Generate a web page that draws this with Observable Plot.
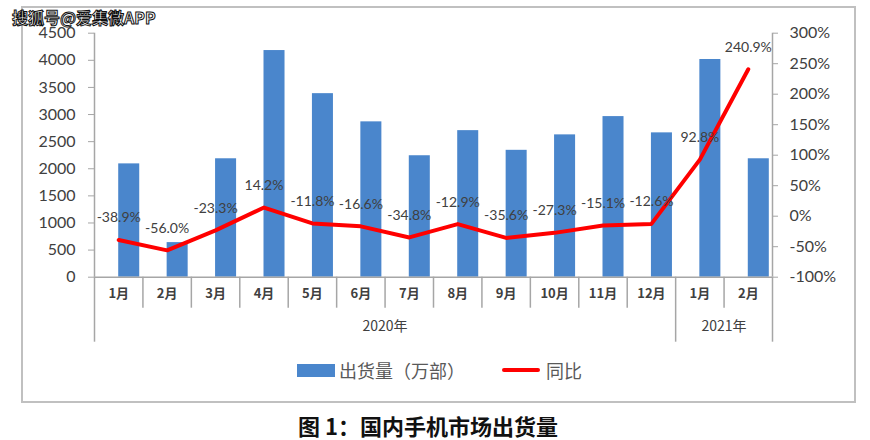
<!DOCTYPE html>
<html>
<head>
<meta charset="utf-8">
<script src="https://cdn.jsdelivr.net/npm/d3@7"></script>
<script src="https://cdn.jsdelivr.net/npm/@observablehq/plot@0.6"></script>
<style>
  html, body { margin: 0; padding: 0; background: #fff; }
  #root { position: relative; width: 870px; height: 440px; overflow: hidden; background: #fff;
          font-family: Lato, "Noto Sans CJK SC", sans-serif; }
  #frame { position: absolute; left: 21px; top: 6px; width: 831px; height: 393px;
           border: 2px solid #c0c0c0; box-sizing: content-box; }
  #chart { position: absolute; left: 0; top: 0; }
  #wm { position: absolute; left: 12px; top: 6px; font-size: 16px; line-height: 22px;
        font-family: "Noto Sans CJK SC", sans-serif; font-weight: bold; color: #fff;
        -webkit-text-stroke: 1px #111; letter-spacing: 0; }
  .legend { position: absolute; top: 358px; height: 24px; display: flex; align-items: center;
            font-family: "Noto Sans CJK SC", sans-serif; font-size: 18px; color: #595959; }
  .sw-bar { width: 38px; height: 13px; background: #4a86cc; margin-right: 4px; }
  .sw-line { width: 38px; height: 4px; background: #ff0000; margin-right: 6px; border-radius: 2px; }
  #title { position: absolute; left: 298px; top: 410px; font-family: "Noto Sans CJK SC", sans-serif;
           font-size: 22px; font-weight: bold; color: #111; line-height: 30px; white-space: nowrap; }
</style>
</head>
<body>
<div id="root">
  <div id="frame"></div>
  <div id="chart"></div>
  <div id="wm">搜狐号@爱集微APP</div>
  <div class="legend" style="left:297px"><div class="sw-bar"></div><span>出货量（万部）</span></div>
  <div class="legend" style="left:502px"><div class="sw-line"></div><span>同比</span></div>
  <div id="title">图 1：国内手机市场出货量</div>
</div>
<script>
// ---- data ----
const months = ["1月","2月","3月","4月","5月","6月","7月","8月","9月","10月","11月","12月","1月","2月"];
const shipments = [2090, 638, 2184, 4180, 3385, 2865, 2240, 2703, 2340, 2625, 2962, 2662, 4015, 2184];
const yoy = [-38.9, -56.0, -23.3, 14.2, -11.8, -16.6, -34.8, -12.9, -35.6, -27.3, -15.1, -12.6, 92.8, 240.9];
const years = ["2020年", "2021年"];
const yearStart = [0, 12];
const yearEnd = [12, 14];
const leftTicks = [0, 500, 1000, 1500, 2000, 2500, 3000, 3500, 4000, 4500];
const rightTicks = [-100, -50, 0, 50, 100, 150, 200, 250, 300];

// ---- build ----
const Y_MAX = 4500, P_MIN = -100, P_MAX = 300;
const pctToY = p => (p - P_MIN) / (P_MAX - P_MIN) * Y_MAX;
const yToPct = v => v / Y_MAX * (P_MAX - P_MIN) + P_MIN;

const data = months.map((m, i) => ({i, m, v: shipments[i], p: yoy[i]}));
const yearData = years.map((y, k) => ({y, s: yearStart[k], e: yearEnd[k]}));
const barW = 0.434;
const gray = "#a6a6a6";
const txt = "#404040";

const chart = Plot.plot({
  width: 870,
  height: 345,
  marginLeft: 94,
  marginRight: 98,
  marginTop: 32.7,
  marginBottom: 68.3,
  x: {type: "linear", domain: [0, 14], axis: null, label: null},
  y: {domain: [0, Y_MAX], axis: null, label: null},
  style: {fontFamily: 'Lato, "Noto Sans CJK SC", sans-serif', background: "transparent", overflow: "visible"},
  marks: [
    Plot.rectY(data, {x1: d => d.i + 0.5, x2: d => d.i + 0.5 + barW, y: "v", fill: "#4a86cc"}),
    Plot.ruleX([0], {stroke: gray, strokeWidth: 1.5}),
    Plot.ruleX([14], {stroke: gray, strokeWidth: 1.5}),
    Plot.ruleY([0], {stroke: gray, strokeWidth: 1.5}),
    Plot.axisY({ticks: leftTicks, tickSize: 6, tickPadding: 13, fontSize: 16, stroke: gray, fill: txt,
                label: null, tickFormat: d => String(d)}),
    Plot.axisY({anchor: "right", ticks: rightTicks.map(pctToY), tickSize: 5, tickPadding: 12, fontSize: 16,
                stroke: gray, fill: txt, label: null, tickFormat: v => Math.round(yToPct(v)) + "%"}),
    Plot.axisX({ticks: [1,2,3,4,5,6,7,8,9,10,11,13], tickSize: 31, tickFormat: () => "", label: null,
                stroke: gray, strokeWidth: 1.5}),
    Plot.axisX({ticks: [0, 12, 14], tickSize: 65, tickFormat: () => "", label: null,
                stroke: gray, strokeWidth: 1.5}),
    Plot.text(data, {x: d => d.i + 0.5, text: "m", frameAnchor: "bottom", dy: 21, fontSize: 13,
                     fontWeight: "bold", fill: txt, fontFamily: '"Noto Sans CJK SC", sans-serif'}),
    Plot.text(yearData, {x: d => (d.s + d.e) / 2, text: "y", frameAnchor: "bottom", dy: 54, fontSize: 14,
                         fill: txt, fontFamily: '"Noto Sans CJK SC", sans-serif'}),
    Plot.line(data, {x: d => d.i + 0.5, y: d => pctToY(d.p), stroke: "#ff0000", strokeWidth: 4,
                     strokeLinejoin: "round", strokeLinecap: "round"}),
    Plot.text(data, {x: d => d.i + 0.5, y: d => pctToY(d.p), text: d => d.p.toFixed(1) + "%", dy: -22,
                     fontSize: 14, fill: txt})
  ]
});
document.getElementById("chart").appendChild(chart);
</script>
</body>
</html>
